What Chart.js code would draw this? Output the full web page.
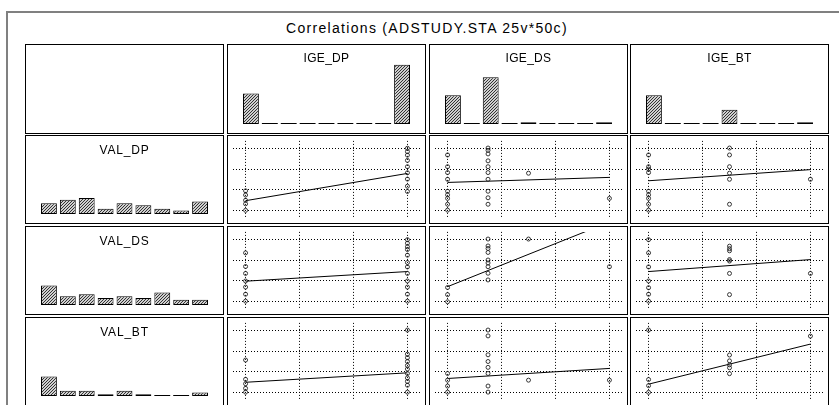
<!DOCTYPE html>
<html>
<head>
<meta charset="utf-8">
<script src="https://cdn.jsdelivr.net/npm/chart.js@4"></script>
<style>
  body { margin: 0; background: #fff; width: 839px; height: 405px; overflow: hidden; position: relative;
         font-family: "Liberation Sans", Arial, sans-serif; }
  #frame { position: absolute; left: 6px; top: 11px; width: 900px; height: 500px;
           border-left: 2px solid #808080; border-top: 2px solid #808080; }
  #title { position: absolute; left: 25px; width: 804px; top: 20px; text-align: center;
           font-size: 14px; line-height: 16px; letter-spacing: 1.3px; color: #000; }
  .cell { position: absolute; box-sizing: border-box; border: 1px solid #000; background: #fff; overflow: hidden; }
  .cell canvas { position: absolute; left: 0; top: 0; }
  .lbl { position: absolute; left: 0; right: 0; text-align: center; font-size: 12px; line-height: 14px; color: #000; }
</style>
</head>
<body>
<div id="frame"></div>
<div id="title"></div>
<script>
// textos e categorias
const chartTitle = 'Correlations (ADSTUDY.STA 25v*50c)';
const xVars = ['IGE_DP', 'IGE_DS', 'IGE_BT'];
const yVars = ['VAL_DP', 'VAL_DS', 'VAL_BT'];
const bins = ['1', '2', '3', '4', '5', '6', '7', '8', '9'];
const gridTicks = [0, 1, 2, 3];

// histogramas (frequências por classe)
const histIGE_DP = [17, 0, 0, 0, 0, 0, 0, 0, 33];
const histIGE_DS = [16, 0, 26, 0, 1, 0, 0, 0, 1];
const histIGE_BT = [16, 0, 0, 0, 8, 0, 0, 0, 1];
const histVAL_DP = [6, 8, 9, 3, 6, 5, 3, 2, 7];
const histVAL_DS = [11, 5, 6, 4, 5, 4, 7, 3, 3];
const histVAL_BT = [11, 3, 3, 1, 3, 1, 0, 0, 2];

// pontos [x, y] de cada gráfico de dispersão
const dpVsDp = [[0,0.03],[0,0.34],[0,0.51],[0,0.76],[0,0.96],
  [3,0.93],[3,1.18],[3,1.52],[3,1.82],[3,2.11],[3,2.41],[3,2.66],[3,2.83],[3,2.99]];
const dpVsDs = [[0,0.04],[0,0.32],[0,0.6],[0,0.77],[0,0.94],[0,1.51],[0,1.83],[0,2.11],[0,2.67],
  [0.75,0.32],[0.75,0.63],[0.75,0.94],[0.75,1.51],[0.75,1.83],[0.75,2.11],[0.75,2.39],[0.75,2.72],[0.75,2.89],[0.75,3.0],
  [1.5,1.8],[3,0.6]];
const dpVsBt = [[0,0.04],[0,0.32],[0,0.6],[0,0.77],[0,0.94],[0,1.83],[0,2.0],[0,2.11],[0,2.67],
  [1.5,0.32],[1.5,1.51],[1.5,1.8],[1.5,2.11],[1.5,2.67],[1.5,3.0],[3,1.51]];
const dsVsDp = [[0,0.04],[0,0.37],[0,0.71],[0,1.0],[0,1.36],[0,1.69],[0,2.34],
  [3,0.04],[3,0.37],[3,0.71],[3,1.0],[3,1.36],[3,1.67],[3,1.88],[3,2.23],[3,2.5],[3,2.63],[3,2.8],[3,2.97]];
const dsVsDs = [[0,0.01],[0,0.35],[0,0.69],
  [0.75,1.05],[0.75,1.37],[0.75,1.68],[0.75,1.86],[0.75,2.0],[0.75,2.36],[0.75,2.55],[0.75,2.67],[0.75,3.0],
  [1.5,3.0],[3,1.68]];
const dsVsBt = [[0,0.04],[0,0.37],[0,0.68],[0,1.0],[0,1.67],[0,2.34],[0,2.97],
  [1.5,0.35],[1.5,1.36],[1.5,1.95],[1.5,2.02],[1.5,2.44],[1.5,2.54],[1.5,2.66],[3,1.36]];
const btVsDp = [[0,0.04],[0,0.22],[0,0.44],[0,0.65],[0,1.57],
  [3,0.04],[3,0.37],[3,0.55],[3,0.72],[3,0.93],[3,1.14],[3,1.31],[3,1.5],[3,1.68],[3,1.85],[3,3.0]];
const btVsDs = [[0,0.04],[0,0.33],[0,0.61],[0,0.93],
  [0.75,0.04],[0.75,0.33],[0.75,0.93],[0.75,1.22],[0.75,1.5],[0.75,1.82],[0.75,2.72],[0.75,3.0],
  [1.5,0.61],[3,0.61]];
const btVsBt = [[0,0.03],[0,0.35],[0,0.64],[0,3.0],
  [1.5,0.92],[1.5,1.2],[1.5,1.34],[1.5,1.53],[1.5,1.81],[3,2.71]];

// retas de regressão: y em x=0 e em x=3
const fitX = [0, 3];
const fitRow1 = [[0.49, 1.79], [1.36, 1.6], [1.44, 1.97]];
const fitRow2 = [[0.99, 1.45], [0.73, 3.81], [1.45, 2.02]];
const fitRow3 = [[0.51, 0.96], [0.69, 1.17], [0.42, 2.33]];

// layout
const colLeft = [25, 227, 429, 630];
const rowTop = [44, 135, 226, 317];
const rowH = [90, 89, 89, 89];
const cellW = 199;

document.getElementById('title').textContent = chartTitle;

// padrão hachurado das barras
const pc = document.createElement('canvas');
pc.width = 3; pc.height = 3;
const pg = pc.getContext('2d');
pg.fillStyle = '#d0d0d0'; pg.fillRect(0, 0, 3, 3);
pg.fillStyle = '#333';
pg.fillRect(2, 0, 1, 1); pg.fillRect(1, 1, 1, 1); pg.fillRect(0, 2, 1, 1);
const hatch = pg.createPattern(pc, 'repeat');

function makeCell(col, row, label, labelTop, spacing) {
  const d = document.createElement('div');
  d.className = 'cell';
  d.style.left = colLeft[col] + 'px';
  d.style.top = rowTop[row] + 'px';
  d.style.width = cellW + 'px';
  d.style.height = rowH[row] + 'px';
  document.body.appendChild(d);
  const cv = document.createElement('canvas');
  cv.width = cellW - 2; cv.height = rowH[row] - 2;
  cv.style.width = cv.width + 'px'; cv.style.height = cv.height + 'px';
  d.appendChild(cv);
  if (label) {
    const l = document.createElement('div');
    l.className = 'lbl';
    l.style.top = labelTop + 'px';
    l.style.letterSpacing = spacing + 'px';
    l.textContent = label;
    d.appendChild(l);
  }
  return cv;
}

// traço na base para classes vazias
const zeroDash = {
  id: 'zeroDash',
  afterDatasetsDraw(chart) {
    const ctx = chart.ctx;
    const vals = chart.data.datasets[0].data;
    ctx.save();
    ctx.strokeStyle = '#000';
    ctx.lineWidth = 1;
    chart.getDatasetMeta(0).data.forEach((bar, i) => {
      if (vals[i] === 0) {
        const y = Math.round(bar.base) - 0.5;
        ctx.beginPath();
        ctx.moveTo(bar.x - bar.width / 2, y);
        ctx.lineTo(bar.x + bar.width / 2, y);
        ctx.stroke();
      }
    });
    ctx.restore();
  }
};

function histChart(canvas, counts) {
  return new Chart(canvas, {
    type: 'bar',
    data: {
      labels: bins,
      datasets: [{
        data: counts,
        backgroundColor: hatch,
        borderColor: '#000',
        borderWidth: 1,
        borderSkipped: false,
        barPercentage: 0.84,
        categoryPercentage: 1
      }]
    },
    options: {
      responsive: false,
      animation: false,
      events: [],
      layout: { padding: { left: 13.5, right: 13.5, top: 0, bottom: 9 } },
      plugins: { legend: { display: false }, tooltip: { enabled: false } },
      scales: {
        x: { display: false },
        y: { display: false, min: 0, max: 44 }
      }
    },
    plugins: [zeroDash]
  });
}

function gridAxis(min, max) {
  return {
    type: 'linear',
    min: min,
    max: max,
    afterBuildTicks: s => { s.ticks = gridTicks.map(v => ({ value: v })); },
    ticks: { display: false },
    grid: { color: '#000', lineWidth: 1, drawTicks: false },
    border: { display: false, dash: [1, 2] }
  };
}

function scatterChart(canvas, pts, fit) {
  return new Chart(canvas, {
    type: 'scatter',
    data: {
      datasets: [{
        data: pts.map(p => ({ x: p[0], y: p[1] })),
        pointRadius: 2,
        pointBorderWidth: 0.9,
        pointBorderColor: '#222',
        pointBackgroundColor: 'rgba(0,0,0,0)'
      }, {
        type: 'line',
        data: fitX.map((x, i) => ({ x: x, y: fit[i] })),
        borderColor: '#000',
        borderWidth: 1,
        pointRadius: 0
      }]
    },
    options: {
      responsive: false,
      animation: false,
      events: [],
      layout: { padding: 0 },
      plugins: { legend: { display: false }, tooltip: { enabled: false } },
      scales: {
        x: gridAxis(-0.235, 3.235),
        y: gridAxis(-0.34, 3.34)
      }
    }
  });
}

// linha de cabeçalho
makeCell(0, 0, '', 0, 0);
histChart(makeCell(1, 0, xVars[0], 6, 0.3), histIGE_DP);
histChart(makeCell(2, 0, xVars[1], 6, 0.3), histIGE_DS);
histChart(makeCell(3, 0, xVars[2], 6, 0.3), histIGE_BT);

// linhas das variáveis VAL
const rowHists = [histVAL_DP, histVAL_DS, histVAL_BT];
const rowPts = [[dpVsDp, dpVsDs, dpVsBt], [dsVsDp, dsVsDs, dsVsBt], [btVsDp, btVsDs, btVsBt]];
const rowFits = [fitRow1, fitRow2, fitRow3];
for (let r = 0; r < 3; r++) {
  histChart(makeCell(0, r + 1, yVars[r], 7, 0.8), rowHists[r]);
  for (let c = 0; c < 3; c++) {
    scatterChart(makeCell(c + 1, r + 1, '', 0, 0), rowPts[r][c], rowFits[r][c]);
  }
}
</script>
</body>
</html>
